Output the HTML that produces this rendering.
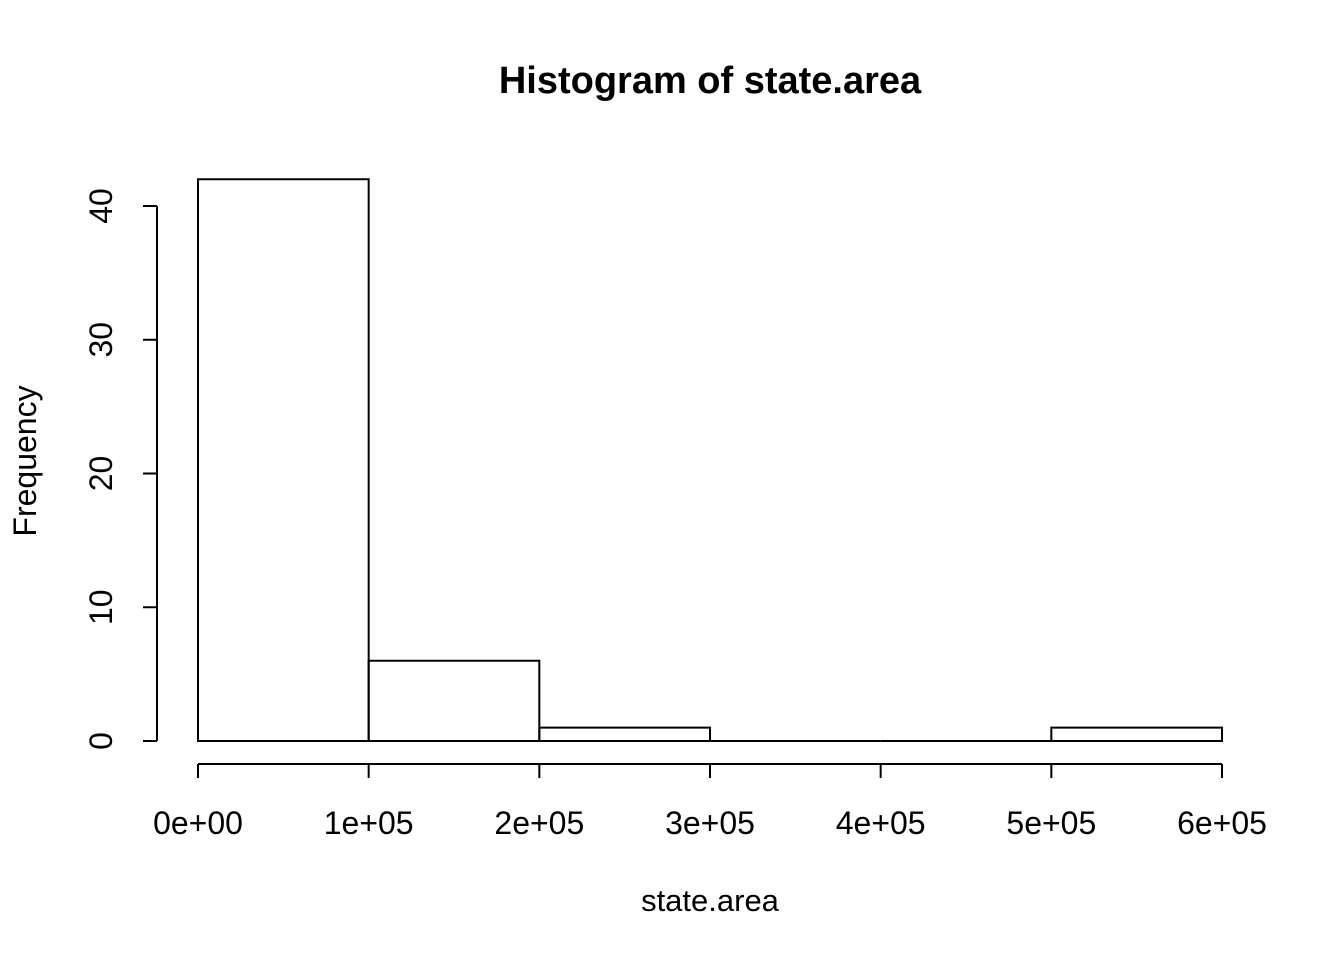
<!DOCTYPE html>
<html><head><meta charset="utf-8"><style>
html,body{margin:0;padding:0;background:#fff;}
svg{display:block;font-family:"Liberation Sans",Arial,sans-serif;}
</style></head><body>
<svg id="chart" width="1344" height="960" viewBox="0 0 1344 960">
<text x="710" y="93" text-anchor="middle" font-size="38" font-weight="bold">Histogram of state.area</text>
<text x="710" y="911" text-anchor="middle" font-size="31">state.area</text>
<text transform="translate(36,461) rotate(-90)" text-anchor="middle" font-size="32">Frequency</text>
<g id="bars"></g>
<g id="xaxis"></g>
<g id="yaxis"></g>
</svg>
<script>
const binEdges = [0, 100000, 200000, 300000, 400000, 500000, 600000];
const counts = [42, 6, 1, 0, 0, 1];
const xTicks = [0, 100000, 200000, 300000, 400000, 500000, 600000];
const xTickLabels = ["0e+00","1e+05","2e+05","3e+05","4e+05","5e+05","6e+05"];
const yTicks = [0, 10, 20, 30, 40];
const yTickLabels = ["0","10","20","30","40"];

const NS = "http://www.w3.org/2000/svg";
const xs = v => 198 + v * (1222 - 198) / 600000;
const ys = v => 741 - v * (741 - 206) / 40;
function mk(tag, attrs, parent){const e=document.createElementNS(NS,tag);for(const k in attrs)e.setAttribute(k,attrs[k]);parent.appendChild(e);return e;}

const bars = document.getElementById('bars');
counts.forEach((c,i)=>{
  const x0=xs(binEdges[i]), x1=xs(binEdges[i+1]), y0=ys(0), y1=ys(c);
  const r=mk('path',{d:`M${x0},${y0} L${x0},${y1} L${x1},${y1} L${x1},${y0} Z`,fill:'none',stroke:'#000','stroke-width':2},bars);
  
  
});

const xa = document.getElementById('xaxis');
const xl = mk('line',{x1:xs(xTicks[0]),x2:xs(xTicks[xTicks.length-1]),y1:764,y2:764,stroke:'#000','stroke-width':2},xa);


xTicks.forEach((t,i)=>{
  const tk=mk('line',{x1:xs(t),x2:xs(t),y1:764,y2:778,stroke:'#000','stroke-width':2},xa);
  
  
  const tx=mk('text',{x:xs(t),y:834,'text-anchor':'middle','font-size':32},xa);
  tx.textContent=xTickLabels[i];
  
  
});

const ya = document.getElementById('yaxis');
const yl = mk('line',{x1:157,x2:157,y1:ys(yTicks[0]),y2:ys(yTicks[yTicks.length-1]),stroke:'#000','stroke-width':2},ya);


yTicks.forEach((t,i)=>{
  const tk=mk('line',{x1:143,x2:157,y1:ys(t),y2:ys(t),stroke:'#000','stroke-width':2},ya);
  
  
  const tx=mk('text',{transform:`translate(112,${ys(t)}) rotate(-90)`,'text-anchor':'middle','font-size':32},ya);
  tx.textContent=yTickLabels[i];
  
  
});
</script>
</body></html>
